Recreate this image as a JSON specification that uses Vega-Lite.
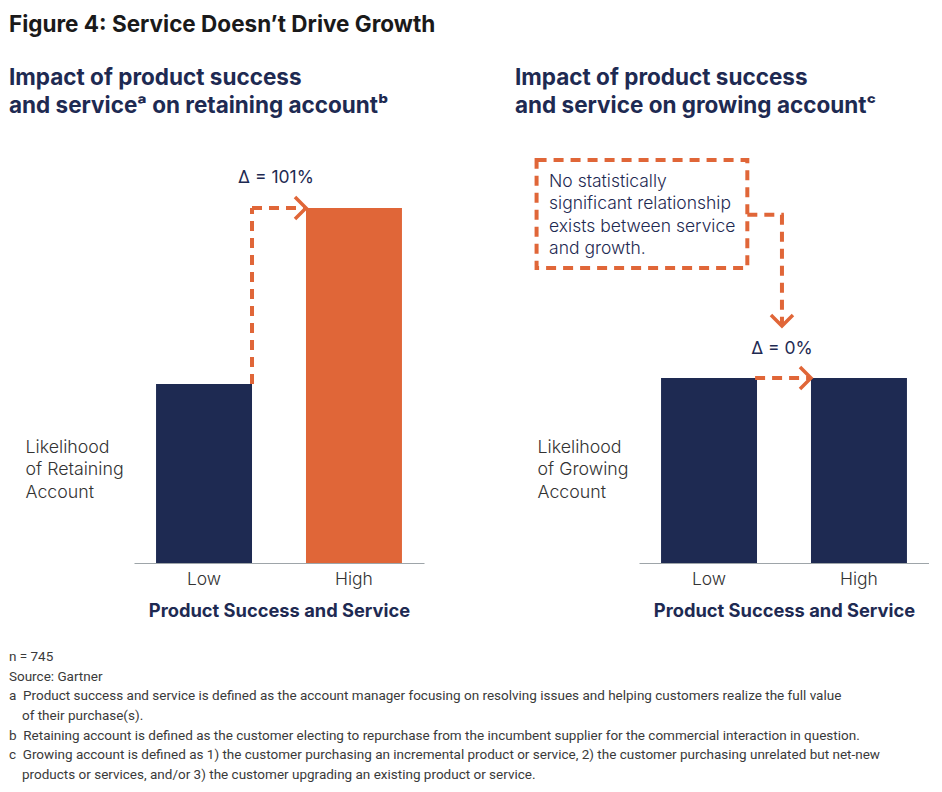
{
  "$schema": "https://vega.github.io/schema/vega-lite/v6.json",
  "background": "white",
  "padding": {"left": 8, "top": 14, "right": 0, "bottom": 0},
  "title": {"text": "Figure 4: Service Doesn’t Drive Growth", "anchor": "start", "font": "Inter", "fontSize": 22.5, "fontWeight": 700, "color": "#1a1a1a", "baseline": "bottom", "offset": 7},
  "config": {
    "view": {"stroke": null},
    "font": "Inter",
    "axisX": {"labelFontSize": 17.5, "labelColor": "#333333", "labelFont": "Inter", "labelFontWeight": 300, "ticks": false, "domainColor": "#9ea5a9", "domainWidth": 1.2, "labelPadding": 7, "titleFontSize": 18.3, "titleFont": "Inter", "titleFontWeight": 700, "titleColor": "#1e2a52", "titlePadding": 15, "labelAngle": 0, "grid": false},
    "axisY": {"domain": false, "labels": false, "ticks": false, "grid": false, "titleAngle": 0, "titleAlign": "left", "titleBaseline": "top", "titleFontSize": 17.8, "titleFont": "Inter", "titleFontWeight": 300, "titleColor": "#333333", "titleLineHeight": 22.5, "titleY": 287}
  },
  "vconcat": [
    {
      "hconcat": [
        {
          "width": 290,
          "height": 412,
          "title": {"text": ["Impact of product success", "and serviceᵃ on retaining accountᵇ"], "anchor": "start", "frame": "group", "dx": -125, "font": "Inter", "fontSize": 22.5, "fontWeight": 700, "color": "#1e2a52", "lineHeight": 28, "baseline": "bottom", "offset": 11},
          "layer": [
            {
              "data": {"values": [{"level": "Low", "value": 50.4}, {"level": "High", "value": 100}]},
              "mark": {"type": "bar"},
              "encoding": {
                "x": {"field": "level", "type": "nominal", "scale": {"domain": ["Low", "High"], "paddingInner": 0.36, "paddingOuter": 0.147}, "axis": {"title": "Product Success and Service"}},
                "y": {"field": "value", "type": "quantitative", "scale": {"domain": [0, 116.06], "nice": false}, "axis": {"title": ["Likelihood", "of Retaining", "Account"], "titleX": -109}},
                "color": {"field": "level", "type": "nominal", "scale": {"domain": ["Low", "High"], "range": ["#1e2a52", "#e06638"]}, "legend": null}
              }
            },
            {
              "data": {"values": [{}]},
              "mark": {"type": "rule", "color": "#e06638", "strokeWidth": 4, "strokeDash": [10, 7]},
              "encoding": {
                "x": {"datum": "Low", "type": "nominal", "bandPosition": 1},
                "y": {"datum": 50.4, "type": "quantitative"},
                "y2": {"datum": 100}
              }
            },
            {
              "data": {"values": [{}]},
              "mark": {"type": "rule", "color": "#e06638", "strokeWidth": 4, "strokeDash": [10, 7]},
              "encoding": {
                "x": {"datum": "Low", "type": "nominal", "bandPosition": 1},
                "x2": {"datum": "High", "bandPosition": 0},
                "y": {"datum": 100, "type": "quantitative"}
              }
            },
            {
              "data": {"values": [{}]},
              "mark": {"type": "point", "shape": "M-1,-1L0,0L-1,1", "size": 484, "filled": false, "stroke": "#e06638", "strokeWidth": 3.5, "opacity": 1},
              "encoding": {
                "x": {"datum": "High", "type": "nominal", "bandPosition": 0},
                "y": {"datum": 100, "type": "quantitative"}
              }
            },
            {
              "data": {"values": [{}]},
              "mark": {"type": "text", "text": "Δ = 101%", "fontSize": 17.5, "font": "Inter", "color": "#1e2a52", "align": "center", "baseline": "middle", "dx": -30, "dy": -30},
              "encoding": {
                "x": {"datum": "High", "type": "nominal", "bandPosition": 0},
                "y": {"datum": 100, "type": "quantitative"}
              }
            }
          ]
        },
        {
          "width": 290,
          "height": 412,
          "title": {"text": ["Impact of product success", "and service on growing accountᶜ"], "anchor": "start", "frame": "group", "dx": -124, "font": "Inter", "fontSize": 22.5, "fontWeight": 700, "color": "#1e2a52", "lineHeight": 28, "baseline": "bottom", "offset": 11},
          "layer": [
            {
              "data": {"values": [{"level": "Low", "value": 50}, {"level": "High", "value": 50}]},
              "mark": {"type": "bar", "color": "#1e2a52"},
              "encoding": {
                "x": {"field": "level", "type": "nominal", "scale": {"domain": ["Low", "High"], "paddingInner": 0.36, "paddingOuter": 0.147}, "axis": {"title": "Product Success and Service"}},
                "y": {"field": "value", "type": "quantitative", "scale": {"domain": [0, 111.35], "nice": false}, "axis": {"title": ["Likelihood", "of Growing", "Account"], "titleX": -102}}
              }
            },
            {
              "data": {"values": [{}]},
              "mark": {"type": "rect", "fill": null, "fillOpacity": 0, "stroke": "#e06638", "strokeWidth": 4, "strokeDash": [10, 7]},
              "encoding": {
                "x": {"datum": "Low", "type": "nominal", "bandPosition": -1.297},
                "x2": {"datum": "Low", "bandPosition": 0.899},
                "y": {"datum": 108.9, "type": "quantitative"},
                "y2": {"datum": 79.7}
              }
            },
            {
              "data": {"values": [{}]},
              "mark": {"type": "text", "text": ["No statistically", "significant relationship", "exists between service", "and growth."], "fontSize": 17.5, "font": "Inter", "fontWeight": 300, "color": "#1e2a52", "align": "left", "baseline": "alphabetic", "lineHeight": 22.3},
              "encoding": {
                "x": {"datum": "Low", "type": "nominal", "bandPosition": -1.167},
                "y": {"datum": 101.6, "type": "quantitative"}
              }
            },
            {
              "data": {"values": [{}]},
              "mark": {"type": "rule", "color": "#e06638", "strokeWidth": 4, "strokeDash": [10, 7]},
              "encoding": {
                "x": {"datum": "Low", "type": "nominal", "bandPosition": 0.899},
                "x2": {"datum": "Low", "bandPosition": 1.28},
                "y": {"datum": 94.1, "type": "quantitative"}
              }
            },
            {
              "data": {"values": [{}]},
              "mark": {"type": "rule", "color": "#e06638", "strokeWidth": 4, "strokeDash": [10, 7]},
              "encoding": {
                "x": {"datum": "Low", "type": "nominal", "bandPosition": 1.26},
                "y": {"datum": 94.1, "type": "quantitative"},
                "y2": {"datum": 64.6}
              }
            },
            {
              "data": {"values": [{}]},
              "mark": {"type": "point", "shape": "M-1,-1L0,0L1,-1", "size": 484, "filled": false, "stroke": "#e06638", "strokeWidth": 3.5, "opacity": 1},
              "encoding": {
                "x": {"datum": "Low", "type": "nominal", "bandPosition": 1.26},
                "y": {"datum": 64.05, "type": "quantitative"}
              }
            },
            {
              "data": {"values": [{}]},
              "mark": {"type": "rule", "color": "#e06638", "strokeWidth": 4, "strokeDash": [10, 7]},
              "encoding": {
                "x": {"datum": "Low", "type": "nominal", "bandPosition": 0.98},
                "x2": {"datum": "High", "bandPosition": 0},
                "y": {"datum": 50, "type": "quantitative"}
              }
            },
            {
              "data": {"values": [{}]},
              "mark": {"type": "point", "shape": "M-1,-1L0,0L-1,1", "size": 484, "filled": false, "stroke": "#e06638", "strokeWidth": 3.5, "opacity": 1},
              "encoding": {
                "x": {"datum": "High", "type": "nominal", "bandPosition": 0},
                "y": {"datum": 50, "type": "quantitative"}
              }
            },
            {
              "data": {"values": [{}]},
              "mark": {"type": "text", "text": "Δ = 0%", "fontSize": 17.5, "font": "Inter", "color": "#1e2a52", "align": "center", "baseline": "middle", "dy": -29},
              "encoding": {
                "x": {"datum": "Low", "type": "nominal", "bandPosition": 1.26},
                "y": {"datum": 50, "type": "quantitative"}
              }
            }
          ]
        }
      ],
      "spacing": 91,
      "bounds": "full"
    },
    {
      "width": 780,
      "height": 118,
      "data": {"values": [
        {"line": 1, "continuation": false, "text": "n = 745"},
        {"line": 2, "continuation": false, "text": "Source: Gartner"},
        {"line": 3, "continuation": false, "text": "a\u00a0\u00a0Product success and service is defined as the account manager focusing on resolving issues and helping customers realize the full value"},
        {"line": 4, "continuation": true, "text": "of their purchase(s)."},
        {"line": 5, "continuation": false, "text": "b\u00a0\u00a0Retaining account is defined as the customer electing to repurchase from the incumbent supplier for the commercial interaction in question."},
        {"line": 6, "continuation": false, "text": "c\u00a0\u00a0Growing account is defined as 1) the customer purchasing an incremental product or service, 2) the customer purchasing unrelated but net-new"},
        {"line": 7, "continuation": true, "text": "products or services, and/or 3) the customer upgrading an existing product or service."}
      ]},
      "encoding": {
        "x": {"datum": 0, "type": "quantitative", "scale": {"domain": [0.1603, 1.1603], "nice": false, "zero": false}, "axis": null},
        "y": {"field": "line", "type": "ordinal", "scale": {"type": "point", "padding": 0}, "axis": null},
        "text": {"field": "text"}
      },
      "layer": [
        {
          "transform": [{"filter": "!datum.continuation"}],
          "mark": {"type": "text", "align": "left", "baseline": "middle", "font": "Roboto", "fontSize": 13.5, "color": "#3a3a3a"}
        },
        {
          "transform": [{"filter": "datum.continuation"}],
          "mark": {"type": "text", "align": "left", "baseline": "middle", "font": "Roboto", "fontSize": 13.5, "color": "#3a3a3a", "dx": 13}
        }
      ]
    }
  ],
  "spacing": 30
}
